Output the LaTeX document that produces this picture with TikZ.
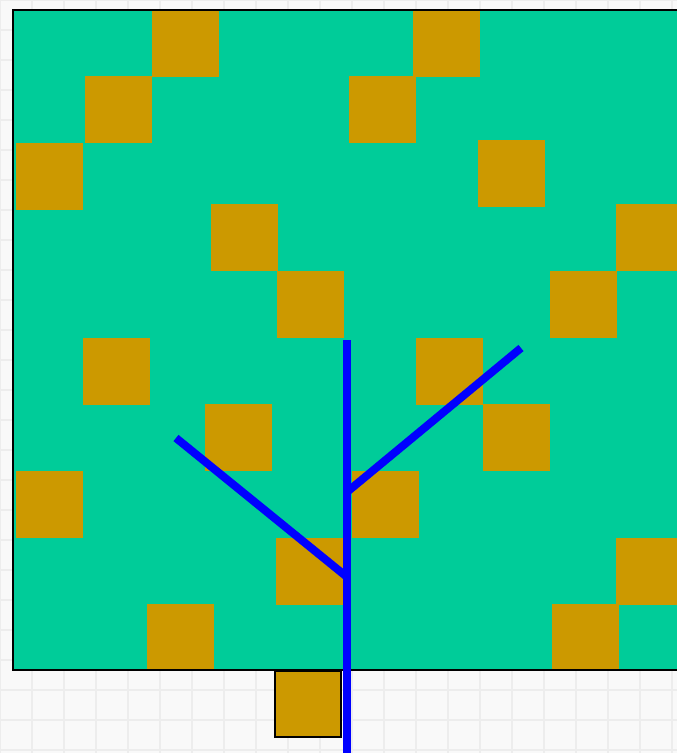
\documentclass[tikz,border=0pt]{standalone}
\usepackage{tikz}
\definecolor{leaf}{HTML}{00CC99}
\definecolor{tileorange}{HTML}{CC9900}
\definecolor{branchblue}{HTML}{0000FF}

\begin{document}
\begin{tikzpicture}[
  x=1pt, y=-1pt,
  tile/.style={fill=tileorange},
  branch/.style={draw=branchblue, line width=8pt},
  gridline/.style={draw=gray!14, line width=1.2pt}
]
  \useasboundingbox (0,0) rectangle (677,753);
  \clip (0,0) rectangle (677,753);

  % faint background grid
  \fill[gray!5] (0,0) rectangle (677,753);
  \foreach \g in {0,32,...,672} \draw[gridline] (\g,0) -- (\g,753);
  \foreach \g in {0,30,...,750} \draw[gridline] (0,\g) -- (677,\g);

  % green field with tiles
  \fill[leaf] (13,10) rectangle (700,670);
  \foreach \x/\y in {152/10, 85/76, 16/143, 413/10, 349/76, 478/140,
                     211/204, 616/204, 277/271, 550/271, 83/338, 416/338,
                     483/404, 205/404, 16/471, 352/471, 276/538, 616/538,
                     147/604, 552/604}
    \fill[tile] (\x,\y) rectangle ++(66.5,66.5);
  \draw[black, line width=1.6pt] (700,10) -- (13,10) -- (13,670) -- (700,670);

  % loose tile below
  \draw[tile, draw=black, line width=1.6pt] (275,671) rectangle (341,737);

  % tree
  \coordinate (trunktop) at (347,340);
  \coordinate (trunkbase) at (347,753);
  \coordinate (forkright) at (347,492);
  \coordinate (forkleft) at (347,577);
  \coordinate (tipright) at (521,348);
  \coordinate (tipleft) at (176,438);
  \draw[branch] (trunktop) -- (trunkbase);
  \draw[branch] (forkright) -- (tipright);
  \draw[branch] (forkleft) -- (tipleft);
\end{tikzpicture}
\end{document}
